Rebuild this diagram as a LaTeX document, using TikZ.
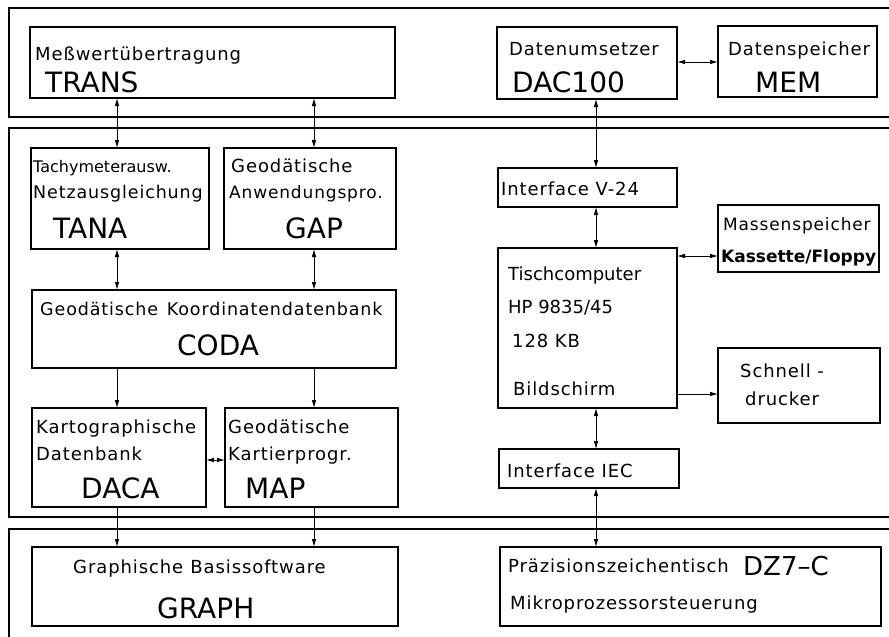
\documentclass[tikz,border=0pt]{standalone}
\usepackage{fontspec}
\setmainfont{DejaVu Sans}
\newfontfamily\lettfont[LetterSpace=5]{DejaVu Sans}
\usetikzlibrary{arrows.meta}
\begin{document}
\begin{tikzpicture}[x=1pt,y=-1pt,
  box/.style={draw, line width=1.4pt, inner sep=0pt, outer sep=0pt, anchor=north west},
  lbl/.style={anchor=base west, inner sep=0pt, font=\lettfont\fontsize{18}{20}\selectfont},
  big/.style={anchor=base west, inner sep=0pt, font=\fontsize{28}{32}\selectfont},
  conn/.style={line width=0.8pt, {Latex[length=8pt,width=4.5pt]}-{Latex[length=8pt,width=4.5pt]}},
  one/.style={line width=0.8pt, -{Latex[length=8pt,width=4.5pt]}},
  band/.style={line width=1.2pt}]
\useasboundingbox (0,0) rectangle (889,637);
% bands
\draw[band] (889,8) -- (9,8) -- (9,117) -- (889,117);
\draw[band] (889,128) -- (9,128) -- (9,517) -- (889,517);
\draw[band] (889,529) -- (9,529) -- (9,637);
% boxes
\node[box, minimum width=365pt, minimum height=71pt] (trans) at (30,27) {};
\node[box, minimum width=180pt, minimum height=72pt] (dac) at (497,27) {};
\node[box, minimum width=159pt, minimum height=71pt] (mem) at (718,26) {};
\node[box, minimum width=178pt, minimum height=101pt] (tana) at (31,148) {};
\node[box, minimum width=172pt, minimum height=101pt] (gap) at (224,148) {};
\node[box, minimum width=364pt, minimum height=78pt] (coda) at (32,290) {};
\node[box, minimum width=174pt, minimum height=99pt] (daca) at (32,408) {};
\node[box, minimum width=173pt, minimum height=99pt] (map) at (225,408) {};
\node[box, minimum width=366pt, minimum height=79pt] (graph) at (32,547) {};
\node[box, minimum width=179pt, minimum height=39pt] (v24) at (498,168) {};
\node[box, minimum width=161pt, minimum height=67pt] (mass) at (718,205) {};
\node[box, minimum width=179pt, minimum height=160pt] (tisch) at (498,248) {};
\node[box, minimum width=162pt, minimum height=75pt] (schnell) at (718,348) {};
\node[box, minimum width=180pt, minimum height=39pt] (iec) at (499,449) {};
\node[box, minimum width=381pt, minimum height=79pt] (dz) at (500,547) {};
% texts
\node[lbl] (t1) at (35,60) {Meßwertübertragung};
\node[big] (t2) at (45,92) {TRANS};
\node[lbl] (t3) at (509,55) {Datenumsetzer};
\node[big] (t4) at (512,92) {DAC100};
\node[lbl] (t5) at (728,55) {Datenspeicher};
\node[big] (t6) at (755,92) {MEM};
\node[lbl, font=\fontsize{16}{20}\selectfont] (t7) at (33,172) {Tachymeterausw.};
\node[lbl, font=\lettfont\fontsize{17.5}{20}\selectfont] (t8) at (33,198) {Netzausgleichung};
\node[big] (t9) at (53,238) {TANA};
\node[lbl] (t10) at (231,172) {Geodätische};
\node[lbl, font=\lettfont\fontsize{17}{20}\selectfont] (t11) at (229,198) {Anwendungspro.};
\node[big] (t12) at (285,238) {GAP};
\node[lbl, font=\lettfont\fontsize{17.5}{20}\selectfont] (t13) at (40,315) {Geodätische\hspace{0.5em}Koordinatendatenbank};
\node[big] (t14) at (177,355) {CODA};
\node[lbl] (t15) at (36,433) {Kartographische};
\node[lbl] (t16) at (36,460) {Datenbank};
\node[big] (t17) at (81,498) {DACA};
\node[lbl] (t18) at (228,433) {Geodätische};
\node[lbl] (t19) at (228,460) {Kartierprogr.};
\node[big] (t20) at (245,498) {MAP};
\node[lbl] (t21) at (73,573) {Graphische\hspace{0.4em}Basissoftware};
\node[big] (t22) at (157,618) {GRAPH};
\node[lbl] (t23) at (501,195) {Interface V-24};
\node[lbl, font=\lettfont\fontsize{17}{20}\selectfont] (t24) at (723,230) {Massenspeicher};
\node[lbl, font=\fontsize{17}{20}\selectfont\bfseries] (t25) at (721,262) {Kassette/Floppy};
\node[lbl, font=\fontsize{18}{20}\selectfont] (t26) at (508,280) {Tischcomputer};
\node[lbl, font=\fontsize{18}{20}\selectfont] (t27) at (508,313) {HP 9835/45};
\node[lbl] (t28) at (512,347) {128 KB};
\node[lbl] (t29) at (513,395) {Bildschirm};
\node[lbl] (t30) at (740,377) {Schnell -};
\node[lbl] (t31) at (745,405) {drucker};
\node[lbl] (t32) at (507,477) {Interface IEC};
\node[lbl] (t33) at (508,572) {Präzisionszeichentisch};
\node[big, font=\fontsize{26}{30}\selectfont] (t34) at (743,575) {DZ7–C};
\node[lbl] (t35) at (510,609) {Mikroprozessorsteuerung};
% connectors
\coordinate (cL) at (117,0);
\coordinate (cR) at (314,0);
\coordinate (cC) at (596,0);
\coordinate (h1) at (0,62);
\coordinate (h2) at (0,256);
\coordinate (h3) at (0,394);
\coordinate (h4) at (0,460);
\draw[conn] (trans.south -| cL) -- (tana.north -| cL);
\draw[conn] (trans.south -| cR) -- (gap.north -| cR);
\draw[conn] (tana.south -| cL) -- (coda.north -| cL);
\draw[conn] (gap.south -| cR) -- (coda.north -| cR);
\draw[one] (coda.south -| cL) -- (daca.north -| cL);
\draw[one] (coda.south -| cR) -- (map.north -| cR);
\draw[one] (daca.south -| cL) -- (graph.north -| cL);
\draw[one] (map.south -| cR) -- (graph.north -| cR);
\draw[conn] (daca.east |- h4) -- (map.west |- h4);
\draw[conn] (dac.east |- h1) -- (mem.west |- h1);
\draw[conn] (dac.south -| cC) -- (v24.north -| cC);
\draw[conn] (v24.south -| cC) -- (tisch.north -| cC);
\draw[conn] (tisch.east |- h2) -- (mass.west |- h2);
\draw[one] (tisch.east |- h3) -- (schnell.west |- h3);
\draw[conn] (tisch.south -| cC) -- (iec.north -| cC);
\draw[conn] (iec.south -| cC) -- (dz.north -| cC);
\end{tikzpicture}
\end{document}
